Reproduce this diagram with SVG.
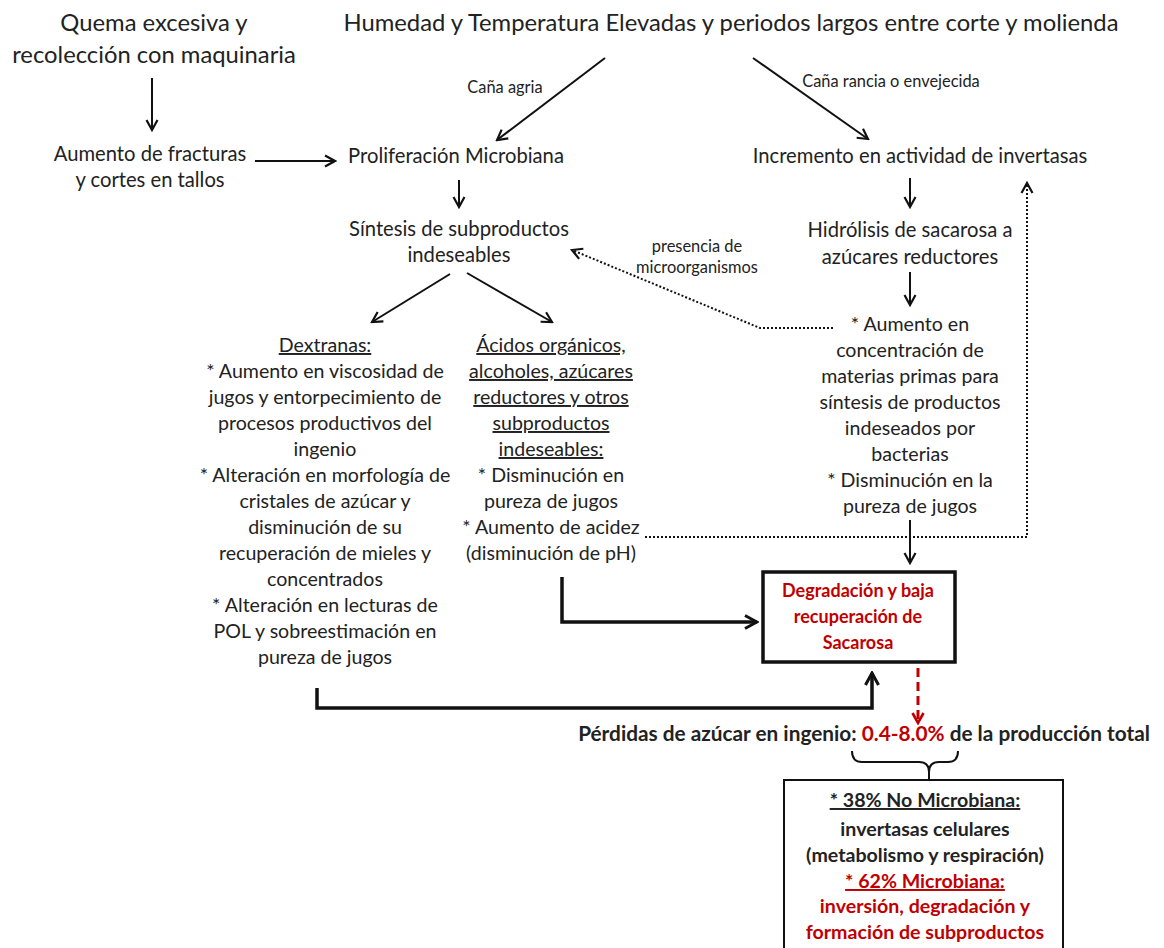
<svg xmlns="http://www.w3.org/2000/svg" width="1164" height="948" viewBox="0 0 1164 948">
<style>
text{font-family:Lato,"Open Sans","Liberation Sans",sans-serif;fill:#222;text-anchor:middle}
.t{font-size:23.8px}
.b{font-size:19.6px}
.b2{font-size:20.2px}
.s{font-size:16.4px}
.r{fill:#c00000;font-weight:bold}
.k{font-weight:bold}
.u{text-decoration:underline}
.ln{fill:none;stroke:#111;stroke-width:2}
.th{fill:none;stroke:#111;stroke-width:3.5}
.dt{fill:none;stroke:#111;stroke-width:2;stroke-dasharray:2 2}
.rd{fill:none;stroke:#c00000;stroke-width:3;stroke-dasharray:9 5}
</style>
<defs>
<marker id="ah" viewBox="0 0 14 14" refX="12" refY="7" markerWidth="14" markerHeight="14" orient="auto" markerUnits="userSpaceOnUse"><path d="M2,1.5 L12,7 L2,12.5" fill="none" stroke="#111" stroke-width="2.2"/></marker>
<marker id="ahk" viewBox="0 0 16 16" refX="14" refY="8" markerWidth="16" markerHeight="16" orient="auto" markerUnits="userSpaceOnUse"><path d="M2,1.5 L14,8 L2,14.5" fill="none" stroke="#111" stroke-width="3"/></marker>
<marker id="ahr" viewBox="0 0 14 14" refX="12" refY="7" markerWidth="14" markerHeight="14" orient="auto" markerUnits="userSpaceOnUse"><path d="M2,1.5 L12,7 L2,12.5" fill="none" stroke="#c00000" stroke-width="2.6"/></marker>
</defs>
<rect width="1164" height="948" fill="#fff"/>

<g id="connectors">
<line class="ln" x1="152" y1="78" x2="152" y2="130" marker-end="url(#ah)"/>
<line class="ln" x1="255" y1="161" x2="335" y2="161" marker-end="url(#ah)"/>
<line class="ln" x1="605" y1="58" x2="497" y2="140" marker-end="url(#ah)"/>
<line class="ln" x1="753" y1="58" x2="868" y2="139" marker-end="url(#ah)"/>
<line class="ln" x1="459" y1="180" x2="459" y2="207" marker-end="url(#ah)"/>
<line class="ln" x1="910" y1="178" x2="910" y2="207" marker-end="url(#ah)"/>
<line class="ln" x1="450" y1="274" x2="372" y2="322" marker-end="url(#ah)"/>
<line class="ln" x1="467" y1="273" x2="552" y2="322" marker-end="url(#ah)"/>
<line class="ln" x1="910" y1="272" x2="910" y2="305" marker-end="url(#ah)"/>
<path class="dt" d="M833,328 L760,328 L572,250" marker-end="url(#ah)"/>
<path class="dt" d="M645,537 L1027,537 L1027,183" marker-end="url(#ah)"/>
<line class="ln" x1="910" y1="520" x2="910" y2="563" marker-end="url(#ah)"/>
<path class="th" d="M562,577 L562,622 L757,622" marker-end="url(#ahk)"/>
<path class="th" d="M317,688 L317,708 L872,708 L872,673" marker-end="url(#ahk)"/>
<line class="rd" x1="918" y1="640" x2="918" y2="723" marker-end="url(#ahr)"/>
<path class="ln" d="M852,751 Q852,762 862,762 L919,762 Q929,762 929,772 L929,780 M929,772 Q929,762 939,762 L948,762 Q958,762 958,751"/>
</g>

<g id="n-quema"><text class="t" x="154" y="31">Quema excesiva y</text><text class="t" x="154" y="63">recolección con maquinaria</text></g>
<g id="n-humedad"><text class="t" x="731" y="31">Humedad y Temperatura Elevadas y periodos largos entre corte y molienda</text></g>
<g id="l-agria"><text class="s" x="505" y="93">Caña agria</text></g>
<g id="l-rancia"><text class="s" x="891" y="87">Caña rancia o envejecida</text></g>
<g id="n-fracturas"><text class="b2" x="150" y="161">Aumento de fracturas</text><text class="b2" x="150" y="187">y cortes en tallos</text></g>
<g id="n-proliferacion"><text class="b2" x="456" y="163">Proliferación Microbiana</text></g>
<g id="n-incremento"><text class="b2" x="920" y="163">Incremento en actividad de invertasas</text></g>
<g id="n-sintesis"><text class="b2" x="459" y="236">Síntesis de subproductos</text><text class="b2" x="459" y="262">indeseables</text></g>
<g id="n-hidrolisis"><text class="b2" x="910" y="237">Hidrólisis de sacarosa a</text><text class="b2" x="910" y="264">azúcares reductores</text></g>
<g id="l-presencia"><text class="s" x="697" y="252">presencia de</text><text class="s" x="697" y="273">microorganismos</text></g>
<g id="n-aumento">
<text class="b" x="910" y="331">* Aumento en</text>
<text class="b" x="910" y="357">concentración de</text>
<text class="b" x="910" y="383">materias primas para</text>
<text class="b" x="910" y="409">síntesis de productos</text>
<text class="b" x="910" y="435">indeseados por</text>
<text class="b" x="910" y="461">bacterias</text>
<text class="b" x="910" y="487">* Disminución en la</text>
<text class="b" x="910" y="513">pureza de jugos</text>
</g>
<g id="n-dextranas">
<text class="b u" x="325" y="352">Dextranas:</text>
<text class="b" x="325" y="378">* Aumento en viscosidad de</text>
<text class="b" x="325" y="404">jugos y entorpecimiento de</text>
<text class="b" x="325" y="430">procesos productivos del</text>
<text class="b" x="325" y="456">ingenio</text>
<text class="b" x="325" y="482">* Alteración en morfología de</text>
<text class="b" x="325" y="508">cristales de azúcar y</text>
<text class="b" x="325" y="534">disminución de su</text>
<text class="b" x="325" y="560">recuperación de mieles y</text>
<text class="b" x="325" y="586">concentrados</text>
<text class="b" x="325" y="612">* Alteración en lecturas de</text>
<text class="b" x="325" y="638">POL y sobreestimación en</text>
<text class="b" x="325" y="664">pureza de jugos</text>
</g>
<g id="n-acidos">
<text class="b u" x="551" y="352">Ácidos orgánicos,</text>
<text class="b u" x="551" y="378">alcoholes, azúcares</text>
<text class="b u" x="551" y="404">reductores y otros</text>
<text class="b u" x="551" y="430">subproductos</text>
<text class="b u" x="551" y="456">indeseables:</text>
<text class="b" x="551" y="482">* Disminución en</text>
<text class="b" x="551" y="508">pureza de jugos</text>
<text class="b" x="551" y="534">* Aumento de acidez</text>
<text class="b" x="551" y="560">(disminución de pH)</text>
</g>
<g id="n-degradacion">
<rect x="763" y="572" width="192" height="90" fill="#fff" stroke="#111" stroke-width="3.5"/>
<text class="r" x="858" y="597" style="font-size:18px">Degradación y baja</text>
<text class="r" x="858" y="623" style="font-size:18px">recuperación de</text>
<text class="r" x="858" y="649" style="font-size:18px">Sacarosa</text>
</g>
<g id="n-perdidas">
<text class="k" x="864" y="741" style="font-size:20.8px"><tspan fill="#222">Pérdidas de azúcar en ingenio: </tspan><tspan fill="#c00000">0.4-8.0%</tspan><tspan fill="#222"> de la producción total</tspan></text>
</g>
<g id="n-desglose">
<rect x="784" y="780" width="279" height="180" fill="#fff" stroke="#111" stroke-width="2"/>
<text class="k u" x="925" y="807" style="font-size:19.6px">* 38% No Microbiana:</text>
<text class="k" x="925" y="836" style="font-size:19.6px">invertasas celulares</text>
<text class="k" x="925" y="862" style="font-size:19.6px">(metabolismo y respiración)</text>
<text class="r u" x="925" y="888" style="font-size:19.6px">* 62% Microbiana:</text>
<text class="r" x="925" y="913" style="font-size:19.6px">inversión, degradación y</text>
<text class="r" x="925" y="939" style="font-size:19.6px">formación de subproductos</text>
</g>
</svg>
